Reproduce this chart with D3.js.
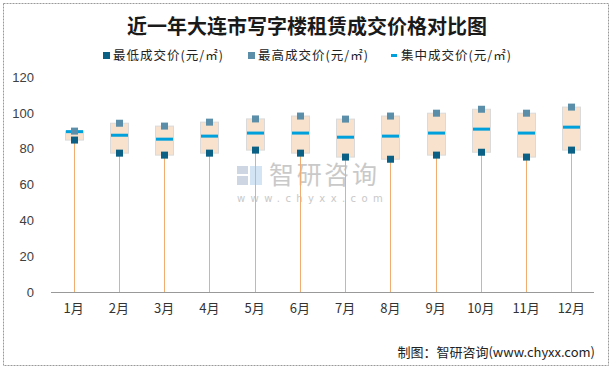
<!DOCTYPE html>
<html><head><meta charset="utf-8">
<script src="https://cdn.jsdelivr.net/npm/d3@7"></script>
<style>body{margin:0;background:#fff}svg{display:block}</style>
</head><body>
<script>
const months = ["1月","2月","3月","4月","5月","6月","7月","8月","9月","10月","11月","12月"];
const lowValues = [84.8, 77.5, 76.4, 77.5, 79.2, 77.5, 75.3, 74.1, 76.4, 78.0, 75.3, 79.2];
const highValues = [89.8, 94.2, 92.6, 94.8, 96.6, 98.2, 96.5, 98.2, 99.8, 102.0, 99.8, 103.2];
const midValues = [89.5, 87.5, 85.3, 87.0, 88.7, 88.7, 86.4, 87.0, 88.7, 90.9, 88.7, 92.0];
const yTicks = [0, 20, 40, 60, 80, 100, 120];
const legendLabels = ["最低成交价(元/㎡)", "最高成交价(元/㎡)", "集中成交价(元/㎡)"];

const W = 615, H = 369;
const font = "'Noto Sans CJK SC', 'Noto Sans', sans-serif";
const svg = d3.select("body").append("svg").attr("width", W).attr("height", H);
svg.append("rect").attr("width", W).attr("height", H).attr("fill", "#fff");
svg.append("rect").attr("x", 3.5).attr("y", 3.5).attr("width", 605).attr("height", 362)
  .attr("fill", "none").attr("stroke", "#999").attr("stroke-dasharray", "2,1");

const x = d3.scaleBand().domain(months).range([51, 594]);
const y = d3.scaleLinear().domain([0, 120]).range([292, 77]);

// title
svg.append("text").attr("x", 307).attr("y", 34).attr("text-anchor", "middle")
  .attr("font-family", font).attr("font-weight", "bold").attr("font-size", 20)
  .attr("fill", "#1a1a1a").text("近一年大连市写字楼租赁成交价格对比图");

// legend
const legendColors = ["#0B6185", "#5B8FA9", "#00A0DC"];
const legendX = [103, 248, 391];
legendLabels.forEach((l, i) => {
  if (i < 2) svg.append("rect").attr("x", legendX[i]).attr("y", 52).attr("width", 7).attr("height", 7).attr("fill", legendColors[i]);
  else svg.append("rect").attr("x", legendX[i]).attr("y", 54).attr("width", 6).attr("height", 3).attr("fill", legendColors[i]);
  svg.append("text").attr("x", legendX[i] + 10).attr("y", 60).attr("font-family", font)
    .attr("font-size", 12.5).attr("fill", "#222")
    .attr("textLength", 110).attr("lengthAdjust", "spacing").text(l);
});

// y axis labels
const yAxis = d3.axisLeft(y).tickValues(yTicks).tickSize(0).tickPadding(0);
const ya = svg.append("g").attr("transform", "translate(34,0)").call(yAxis);
ya.select(".domain").remove();
ya.selectAll("text").attr("font-family", "'Liberation Sans', Arial, sans-serif").attr("font-size", 13).attr("fill", "#404040");

// watermark
const wm = svg.append("g").attr("opacity", 0.9);
wm.append("rect").attr("x", 237).attr("y", 166).attr("width", 11).attr("height", 8).attr("fill", "#c9d1e0");
wm.append("rect").attr("x", 237).attr("y", 176).attr("width", 11).attr("height", 9).attr("fill", "#c9d1e0");
wm.append("rect").attr("x", 250).attr("y", 166).attr("width", 12).attr("height", 19).attr("fill", "#cfe3f3");
wm.append("text").attr("x", 269).attr("y", 184).attr("font-family", font).attr("font-size", 25)
  .attr("textLength", 108).attr("lengthAdjust", "spacing")
  .attr("fill", "#c4c4c4").text("智研咨询");
wm.append("text").attr("x", 237).attr("y", 202).attr("font-family", "'DejaVu Sans', sans-serif").attr("font-size", 10)
  .attr("letter-spacing", 5.4).attr("fill", "#c4c4c4").text("www.chyxx.com");

// axis line
svg.append("line").attr("x1", 51).attr("x2", 594).attr("y1", y(0) + 0.5).attr("y2", y(0) + 0.5)
  .attr("stroke", "#999").attr("stroke-width", 1);

// x labels
const xAxis = d3.axisBottom(x).tickSize(0).tickPadding(0);
const xa = svg.append("g").attr("transform", "translate(0,304)").call(xAxis);
xa.select(".domain").remove();
xa.selectAll("text").attr("font-family", font).attr("font-size", 13).attr("fill", "#333");

const cx = m => x(m) + x.bandwidth() / 2;
const g = svg.append("g");
months.forEach((m, i) => {
  const c = Math.round(cx(m)) + 0.5;
  g.append("line").attr("x1", c).attr("x2", c).attr("y1", y(0)).attr("y2", y(highValues[i]))
    .attr("stroke", "#F0AD72").attr("stroke-width", 1);
  g.append("rect").attr("x", c - 9).attr("y", y(highValues[i])).attr("width", 18)
    .attr("height", y(lowValues[i]) - y(highValues[i])).attr("fill", "#F8E2CD").attr("stroke", "#DADADA");
  g.append("rect").attr("x", c - 8.5).attr("y", y(midValues[i]) - 1.5).attr("width", 17).attr("height", 3).attr("fill", "#00A0DC");
  g.append("rect").attr("x", c - 3.5).attr("y", y(highValues[i]) - 3.5).attr("width", 7).attr("height", 7).attr("fill", "#5B8FA9");
  g.append("rect").attr("x", c - 3.5).attr("y", y(lowValues[i]) - 3.5).attr("width", 7).attr("height", 7).attr("fill", "#0B6185");
});

// footer
svg.append("text").attr("x", 595).attr("y", 357).attr("text-anchor", "end").attr("font-family", font)
  .attr("font-size", 13).attr("fill", "#222").text("制图：智研咨询(www.chyxx.com)");
</script>
</body></html>
